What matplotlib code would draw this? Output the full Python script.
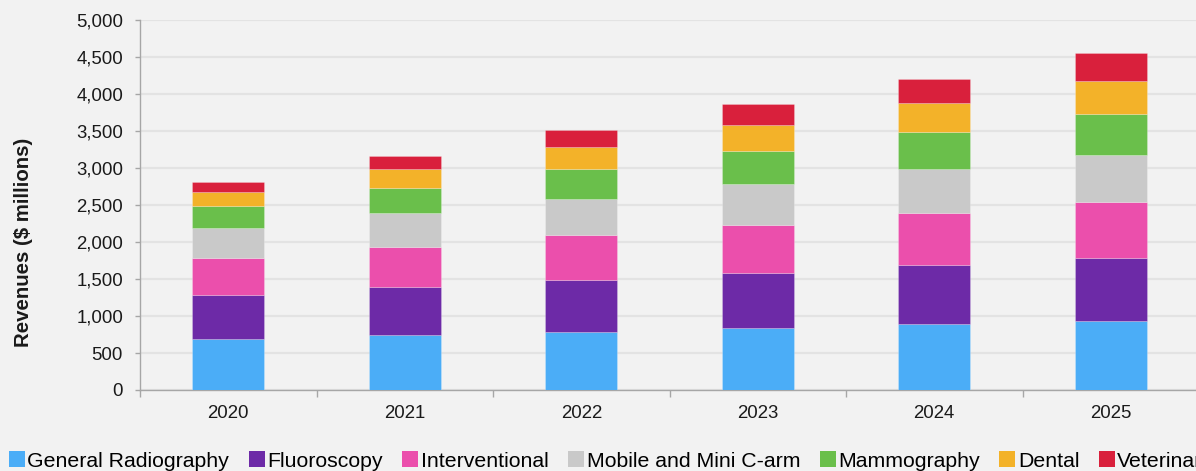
import numpy as np
import matplotlib
matplotlib.use("Agg")
import matplotlib.pyplot as plt
from matplotlib.patches import Patch

plt.rcParams['font.family'] = ['Liberation Sans', 'DejaVu Sans']

# data ($ millions)
years = ["2020", "2021", "2022", "2023", "2024", "2025"]
general_radiography = [685, 738, 784, 838, 892, 936]
fluoroscopy = [603, 649, 702, 747, 793, 847]
interventional = [500, 549, 604, 644, 702, 753]
mobile_c_arm = [397, 451, 491, 554, 594, 643]
mammography = [301, 346, 400, 446, 505, 550]
dental = [194, 248, 302, 351, 392, 450]
veterinary = [126, 180, 225, 280, 324, 378]

series = [
    ("General Radiography", general_radiography, "#4BADF7"),
    ("Fluoroscopy", fluoroscopy, "#6D2AA7"),
    ("Interventional", interventional, "#EB4FAC"),
    ("Mobile and Mini C-arm", mobile_c_arm, "#C9C9C9"),
    ("Mammography", mammography, "#6ABF4B"),
    ("Dental", dental, "#F3B229"),
    ("Veterinary", veterinary, "#D9203C"),
]

bg = "#F2F2F2"
fig = plt.figure(figsize=(11.96, 4.71), dpi=100, facecolor=bg)
ax = fig.add_axes([140 / 1196, 1 - 390 / 471, 1059 / 1196, 370 / 471])
ax.set_facecolor(bg)

x = np.arange(len(years))
bottom = np.zeros(len(years))
handles = []
for name, vals, col in series:
    ax.bar(x, vals, width=0.41, bottom=bottom, color=col, zorder=3,
           edgecolor=(1, 1, 1, 0.25), linewidth=0.6)
    bottom += np.array(vals)
    handles.append(Patch(facecolor=col, label=name))

ax.set_xlim(-0.5, len(years) - 0.5)
ax.set_ylim(0, 5000)
ax.set_yticks(np.arange(0, 5001, 500))
ax.set_yticklabels([f"{v:,}" for v in range(0, 5001, 500)])
ax.yaxis.grid(True, color="#E3E3E3", linewidth=1.6, zorder=0)
ax.set_axisbelow(True)

# category labels, ticks between categories
ax.set_xticks(x)
ax.set_xticklabels(years)
ax.set_xticks(np.arange(-0.5, len(years), 1.0), minor=True)
ax.tick_params(axis="x", which="major", length=0, pad=11, labelsize=13.4, colors="#1a1a1a")
ax.tick_params(axis="x", which="minor", length=5, width=1, color="#A6A6A6")
ax.tick_params(axis="y", length=3.6, width=1, color="#A6A6A6", pad=8.6, labelsize=13.4, labelcolor="#1a1a1a")

for s in ["top", "right"]:
    ax.spines[s].set_visible(False)
for s in ["left", "bottom"]:
    ax.spines[s].set_color("#A6A6A6")
    ax.spines[s].set_linewidth(1)

ax.set_ylabel("Revenues ($ millions)", fontsize=14.7, fontweight="bold", color="#1a1a1a")
ax.yaxis.set_label_coords(-0.101, 0.40)

fig.legend(handles=handles, loc="center left", bbox_to_anchor=(9 / 1196, 1 - 461 / 471),
           ncol=7, frameon=False, fontsize=15.3, handlelength=0.75, handleheight=0.75,
           handletextpad=0.12, columnspacing=0.92, borderpad=0, borderaxespad=0)

fig.savefig("out.png", dpi=100, facecolor=bg)
